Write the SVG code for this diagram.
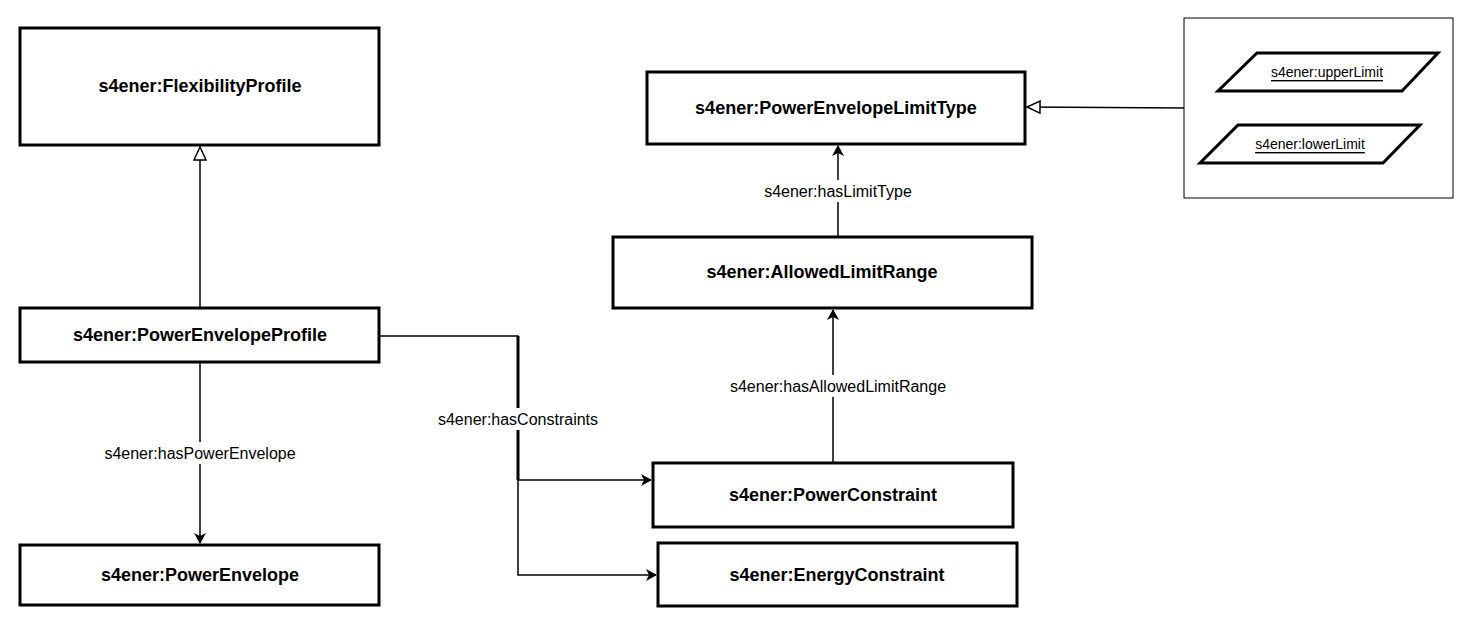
<svg xmlns="http://www.w3.org/2000/svg" width="1473" height="629" viewBox="0 0 1473 629">
<style>
.n{fill:#fff;stroke:#000;stroke-width:3}
.t{font-family:"Liberation Sans",Arial,sans-serif;font-size:18px;font-weight:bold;text-anchor:middle;dominant-baseline:central}
.l{font-family:"Liberation Sans",Arial,sans-serif;font-size:16px;text-anchor:middle;dominant-baseline:central}
.c{fill:none;stroke:#000;stroke-width:1.5}
.u{font-family:"Liberation Sans",Arial,sans-serif;font-size:14px;text-anchor:middle;dominant-baseline:central;text-decoration:underline}
</style>
<defs>
<marker id="a" markerWidth="12" markerHeight="12" refX="10" refY="6" orient="auto" markerUnits="userSpaceOnUse"><path d="M0,0 L11,6 L0,12 L3,6 Z" fill="#000"/></marker>
<marker id="h" markerWidth="16" markerHeight="14" refX="14" refY="7" orient="auto" markerUnits="userSpaceOnUse"><path d="M1,1 L14,7 L1,13 Z" fill="#fff" stroke="#000" stroke-width="1.5"/></marker>
</defs>
<rect width="1473" height="629" fill="#fff"/>
<g id="connectors">
<path class="c" d="M200,308 V147" stroke-width="3" marker-end="url(#h)"/>
<path class="c" d="M1184,108 L1027,107" marker-end="url(#h)"/>
<path class="c" d="M838,237 V146" marker-end="url(#a)"/>
<path class="c" d="M833,463 V310" marker-end="url(#a)"/>
<path class="c" d="M200,362 V543" marker-end="url(#a)"/>
<path class="c" d="M379,336 H518 V480 H651" marker-end="url(#a)"/>
<path d="M518,336 V480" stroke="#000" stroke-width="3"/>
<path class="c" d="M518,480 V575 H656" marker-end="url(#a)"/>
<rect x="746" y="180" width="184" height="22" fill="#fff"/>
<text class="l" x="838" y="191">s4ener:hasLimitType</text>
<rect x="700" y="375" width="272" height="22" fill="#fff"/>
<text class="l" x="838" y="386">s4ener:hasAllowedLimitRange</text>
<rect x="80" y="442" width="240" height="22" fill="#fff"/>
<text class="l" x="200" y="453">s4ener:hasPowerEnvelope</text>
<rect x="420" y="408" width="196" height="22" fill="#fff"/>
<text class="l" x="518" y="419">s4ener:hasConstraints</text>
</g>
<g id="FlexibilityProfile"><rect class="n" x="20" y="28" width="359" height="117"/><text class="t" x="200" y="86">s4ener:FlexibilityProfile</text></g>
<g id="PowerEnvelopeLimitType"><rect class="n" x="647" y="72" width="378" height="72"/><text class="t" x="836" y="108">s4ener:PowerEnvelopeLimitType</text></g>
<g id="Legend">
<rect x="1184" y="18" width="269" height="180" fill="#fff" stroke="#000" stroke-width="1"/>
<path class="n" d="M1257,53 H1438 L1402,91 H1218 Z"/><text class="u" x="1327" y="72">s4ener:upperLimit</text>
<path class="n" d="M1238,125 H1420 L1383,163 H1200 Z"/><text class="u" x="1310" y="144">s4ener:lowerLimit</text>
</g>
<g id="AllowedLimitRange"><rect class="n" x="613" y="237" width="419" height="71"/><text class="t" x="822" y="272">s4ener:AllowedLimitRange</text></g>
<g id="PowerEnvelopeProfile"><rect class="n" x="20" y="308" width="359" height="54"/><text class="t" x="200" y="335">s4ener:PowerEnvelopeProfile</text></g>
<g id="PowerConstraint"><rect class="n" x="653" y="463" width="360" height="64"/><text class="t" x="833" y="495">s4ener:PowerConstraint</text></g>
<g id="EnergyConstraint"><rect class="n" x="658" y="543" width="359" height="63"/><text class="t" x="837" y="575">s4ener:EnergyConstraint</text></g>
<g id="PowerEnvelope"><rect class="n" x="20" y="545" width="359" height="60"/><text class="t" x="200" y="575">s4ener:PowerEnvelope</text></g>
</svg>
